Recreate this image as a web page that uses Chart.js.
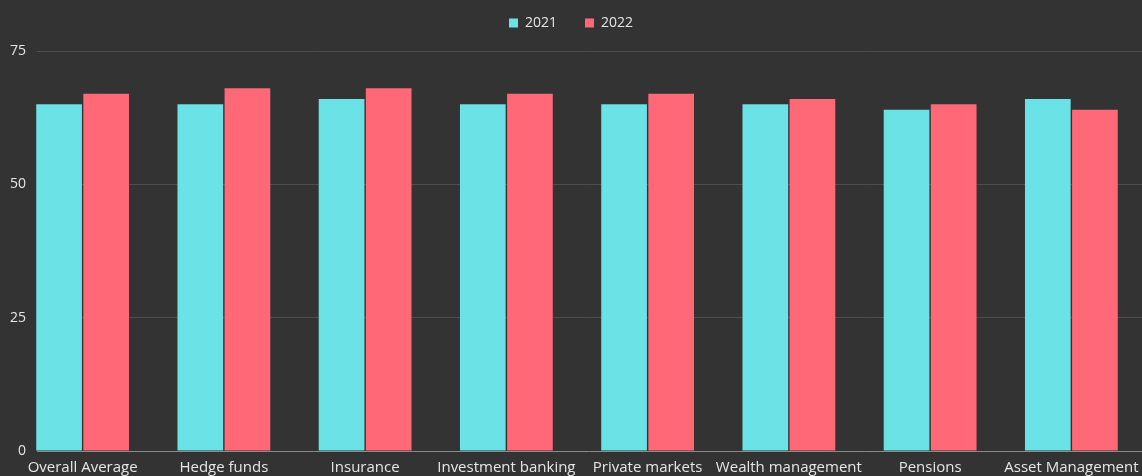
<!DOCTYPE html>
<html>
<head>
<meta charset="utf-8">
<script src="https://cdn.jsdelivr.net/npm/chart.js@4.4.1/dist/chart.umd.min.js"></script>
<style>
  html, body { margin: 0; padding: 0; background: #333333; }
  #wrap { width: 1142px; height: 476px; }
</style>
</head>
<body>
<div id="wrap"><canvas id="chart" width="1142" height="476"></canvas></div>
<script>
const categories = ['Overall Average', 'Hedge funds', 'Insurance', 'Investment banking',
  'Private markets', 'Wealth management', 'Pensions', 'Asset Management'];
const series2021 = [65, 65, 66, 65, 65, 65, 64, 66];
const series2022 = [67, 68, 68, 67, 67, 66, 65, 64];
const yTicks = [0, 25, 50, 75];

const TEXT = '#e6e6e6';
const FONT = "'Open Sans', sans-serif";

// the x scale starts further left than the grid, so the first group sits near the labels
const shiftX = {
  id: 'shiftX',
  afterLayout(chart) {
    const x = chart.scales.x;
    x.left = 12;
    x.width = x.right - x.left;
    x.configure();
  }
};

// a bit more room under the legend
const legendGap = {
  id: 'legendGap',
  beforeInit(chart) {
    const legend = chart.legend;
    if (!legend) return;
    const fit = legend.fit;
    legend.fit = function () {
      fit.call(this);
      this.height += 11;
    };
  }
};

new Chart(document.getElementById('chart'), {
  type: 'bar',
  data: {
    labels: categories,
    datasets: [
      { label: '2021', data: series2021, backgroundColor: '#6ae2e6', clip: false },
      { label: '2022', data: series2022, backgroundColor: '#ff6877', clip: false }
    ]
  },
  options: {
    responsive: false,
    devicePixelRatio: 1,
    animation: false,
    categoryPercentage: 0.667,
    barPercentage: 0.97,
    layout: { padding: { top: -12, right: 0, left: 0, bottom: 0 } },
    plugins: {
      legend: {
        position: 'top',
        labels: {
          color: TEXT,
          boxWidth: 9,
          boxHeight: 9,
          padding: 28,
          font: { family: FONT, size: 14 }
        }
      },
      tooltip: { enabled: false }
    },
    scales: {
      x: {
        grid: { display: false },
        border: { display: false },
        ticks: { color: TEXT, padding: 0, maxRotation: 0, autoSkip: false, font: { family: FONT, size: 15 } },
        afterFit(scale) { scale.height = 25; }
      },
      y: {
        min: 0,
        max: 75,
        afterBuildTicks(scale) { scale.ticks = yTicks.map(v => ({ value: v })); },
        grid: {
          drawTicks: false,
          color: ctx => ctx.tick && ctx.tick.value === 0 ? '#8a8a8a' : '#4d4d4d',
          lineWidth: 1
        },
        border: { display: false },
        ticks: { color: TEXT, padding: 11, font: { family: FONT, size: 14 } },
        afterFit(scale) { scale.width = 37; }
      }
    }
  },
  plugins: [shiftX, legendGap]
});
</script>
</body>
</html>
